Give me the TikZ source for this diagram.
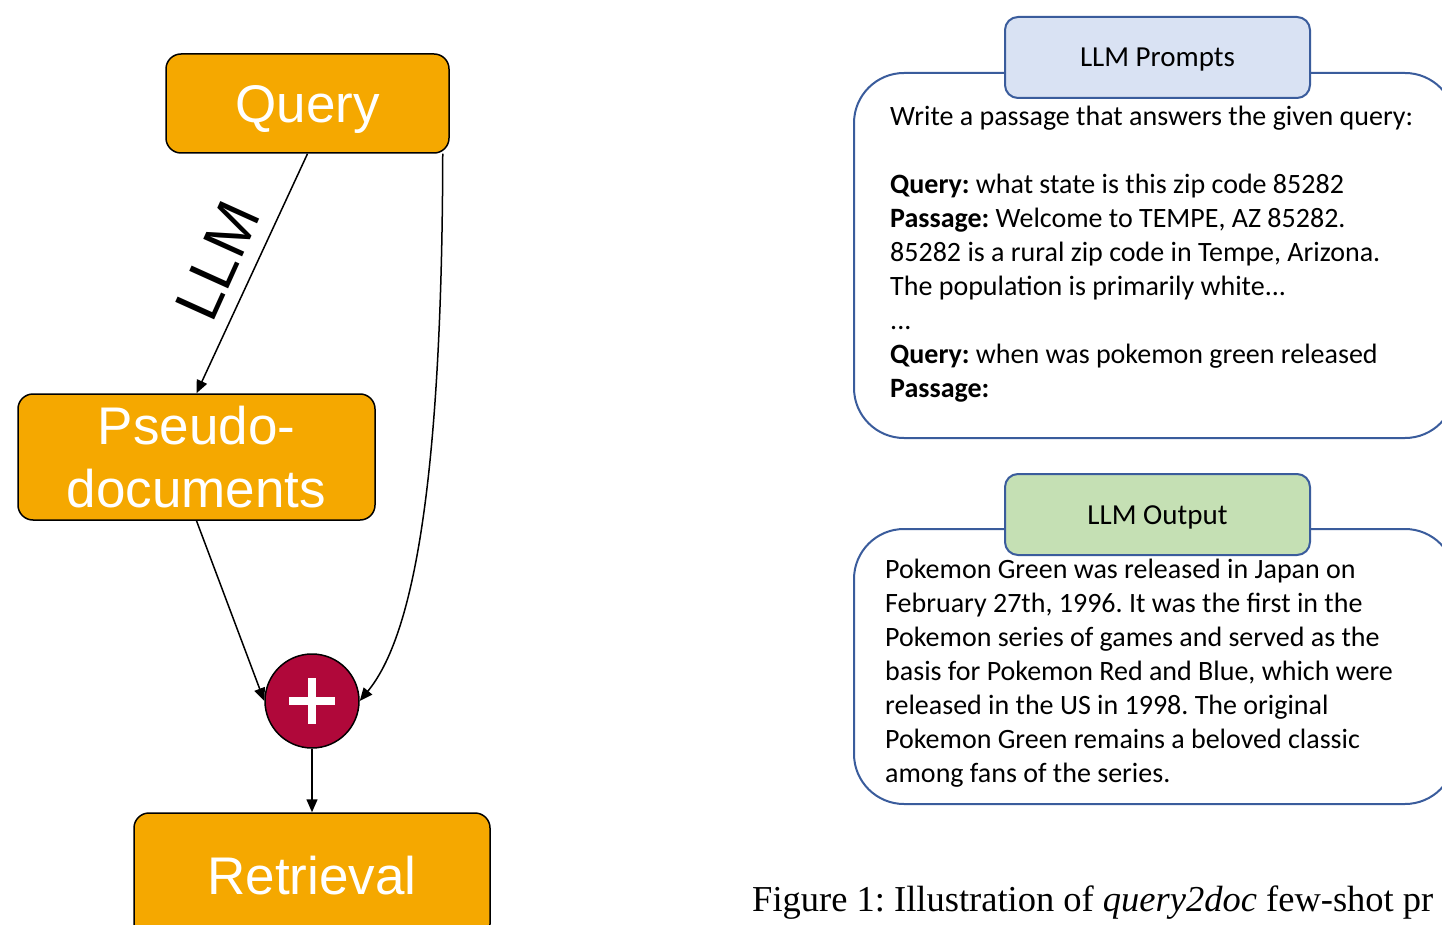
\documentclass[tikz,border=0pt]{standalone}
\usepackage{fontspec}
\setmainfont{Liberation Serif}
\newfontfamily\arialf{Liberation Sans}
\newfontfamily\calib{Carlito}
\usetikzlibrary{arrows.meta,calc}
\definecolor{orangebox}{HTML}{F5A800}
\definecolor{crimson}{HTML}{B0083A}
\definecolor{frameblue}{HTML}{3A5C9C}
\definecolor{tabblue}{HTML}{D9E2F3}
\definecolor{tabgreen}{HTML}{C5E0B4}
\tikzset{
  flowbox/.style={draw=black, line width=1.5pt, fill=orangebox, rounded corners=15pt,
    text=white, font=\arialf\fontsize{53}{65}\selectfont, align=center, inner sep=0pt},
  arr/.style={line width=1.5pt, -{Triangle[length=13pt,width=11pt]}},
  bigframe/.style={draw=frameblue, line width=2pt, rounded corners=50pt, inner sep=0pt},
  tabbox/.style={draw=frameblue, line width=2pt, rounded corners=13pt, inner sep=0pt,
    font=\calib\fontsize{29}{34}\selectfont, text height=19pt, text depth=0pt},
  bodytext/.style={font=\calib\fontsize{28}{34}\selectfont, align=left, inner sep=0pt, anchor=north west}
}
\begin{document}
\frenchspacing
\begin{tikzpicture}[x=1pt,y=-1pt]
\clip (0,0) rectangle (1442,925);
\fill[white] (0,0) rectangle (1442,925);
% left flow
\node[flowbox, minimum width=283pt, minimum height=99pt, text height=39pt, text depth=0pt] (q) at (307.5,103.5) {Query};
\node[flowbox, minimum width=357pt, minimum height=126pt] (pd) at (196.5,457) {Pseudo-\\[-2pt]documents};
\node[circle, draw=black, line width=1.5pt, fill=crimson, minimum size=94pt, inner sep=0pt] (c) at (312,701) {};
\node[flowbox, minimum width=356pt, minimum height=126pt] (r) at (312,876) {Retrieval};
\draw[white, line width=8pt] ($(c.center)+(-23,0)$) -- ($(c.center)+(23,0)$);
\draw[white, line width=8pt] ($(c.center)+(0,-23)$) -- ($(c.center)+(0,23)$);
\draw[arr] (q.south) -- (pd.north);
\node[font=\arialf\fontsize{62}{62}\selectfont, rotate=65.7, inner sep=0pt] (llm) at (218,261) {LLM};
\draw[arr] ([xshift=-7pt]q.south east) .. controls (442,500) and (410,640) .. (c.east);
\draw[arr] (pd.south) -- (c.west);
\draw[arr] (c.south) -- (r.north);
% prompts
\node[bigframe, minimum width=601pt, minimum height=365pt] (pf) at (1154.5,255.5) {};
\node[tabbox, fill=tabblue, minimum width=305pt, minimum height=81pt] (pt) at (1157.5,57.5) {LLM Prompts};
\node[bodytext] (ptext) at (890,106) {Write a passage that answers the given query:\\
\mbox{}\\
\textbf{Query:} what state is this zip code 85282\\
\textbf{Passage:} Welcome to TEMPE, AZ 85282.\\
85282 is a rural zip code in Tempe, Arizona.\\
The population is primarily white...\\
...\\
\textbf{Query:} when was pokemon green released\\
\textbf{Passage:}};
% output
\node[bigframe, minimum width=601pt, minimum height=275pt] (of) at (1154.5,666.5) {};
\node[tabbox, fill=tabgreen, minimum width=305pt, minimum height=81pt] (ot) at (1157.5,514.5) {LLM Output};
\node[bodytext] (otext) at (885,559) {Pokemon Green was released in Japan on\\
February 27th, 1996. It was the first in the\\
Pokemon series of games and served as the\\
basis for Pokemon Red and Blue, which were\\
released in the US in 1998. The original\\
Pokemon Green remains a beloved classic\\
among fans of the series.};
% caption
\node[anchor=base west, inner sep=0pt, font=\fontsize{36.5}{42}\selectfont] (cap) at (752,911) {Figure 1: Illustration of \textit{query2doc} few-shot pr};
\end{tikzpicture}
\end{document}
